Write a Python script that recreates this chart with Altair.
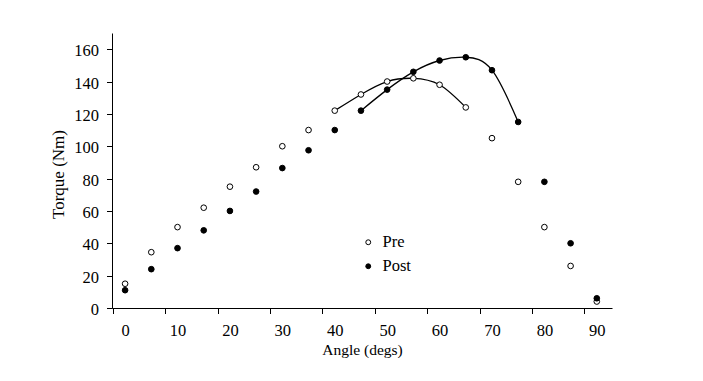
import altair as alt
import pandas as pd

# ---- data ----
angles = [0, 5, 10, 15, 20, 25, 30, 35, 40, 45, 50, 55, 60, 65, 70, 75, 80, 85, 90]
pre_torque = [15, 34.5, 50, 62, 75, 87, 100, 110, 122, 132, 140, 142, 138, 124, 105, 78, 50, 26, 4]
post_torque = [11, 24, 37, 48, 60, 72, 86.5, 97.5, 110, 122, 135, 146, 153, 155, 147, 115, 78, 40, 6]
groups = ["Pre", "Post"]
pre_curve_range = (40, 65)
post_curve_range = (45, 75)
x_ticks = [0, 10, 20, 30, 40, 50, 60, 70, 80, 90]
y_ticks = [0, 20, 40, 60, 80, 100, 120, 140, 160]

rows = []
for a, t in zip(angles, pre_torque):
    rows.append({"group": "Pre", "angle": a, "torque": t})
for a, t in zip(angles, post_torque):
    rows.append({"group": "Post", "angle": a, "torque": t})
df = pd.DataFrame(rows)

curve_df = pd.concat([
    df[(df.group == "Pre") & (df.angle >= pre_curve_range[0]) & (df.angle <= pre_curve_range[1])],
    df[(df.group == "Post") & (df.angle >= post_curve_range[0]) & (df.angle <= post_curve_range[1])],
])

FONT = "Liberation Serif, Times New Roman, serif"

x_enc = alt.X(
    "angle:Q",
    scale=alt.Scale(domain=[-2.5, 92.9], nice=False, zero=False),
    axis=alt.Axis(
        title="Angle (degs)",
        values=x_ticks,
        tickOffset=-12.4,
        labelOffset=12.4,
        grid=False,
        domainColor="black",
        tickColor="black",
        tickSize=5.5,
        labelPadding=9,
        labelFont=FONT,
        labelFontSize=16.5,
        labelColor="black",
        titleFont=FONT,
        titleFontSize=15.5,
        titleFontWeight="normal",
        titleColor="black",
        titleX=250,
        titleY=41,
        titleBaseline="middle",
        labelFlush=False,
    ),
)
y_enc = alt.Y(
    "torque:Q",
    scale=alt.Scale(domain=[0, 170], nice=False),
    axis=alt.Axis(
        title="Torque (Nm)",
        values=y_ticks,
        grid=False,
        domainColor="black",
        tickColor="black",
        tickSize=5.5,
        labelPadding=8,
        labelFont=FONT,
        labelFontSize=16.5,
        labelColor="black",
        labelOffset=1.5,
        titleFont=FONT,
        titleFontSize=17,
        titleFontWeight="normal",
        titleColor="black",
        titleX=-54,
        titleY=141,
        titleBaseline="middle",
        labelFlush=False,
    ),
)

lines = alt.Chart(curve_df).mark_line(
    interpolate="natural", color="black", strokeWidth=1.3
).encode(x=x_enc, y=y_enc, detail="group:N")

points = alt.Chart(df).mark_point(
    shape="circle", filled=True, size=32, stroke="black", strokeWidth=1, opacity=1
).encode(
    x=x_enc,
    y=y_enc,
    fill=alt.Fill(
        "group:N",
        scale=alt.Scale(domain=groups, range=["white", "black"]),
        sort=groups,
        legend=alt.Legend(
            title=None,
            orient="none",
            legendX=248,
            legendY=201,
            padding=0,
            symbolType="circle",
            symbolSize=24,
            symbolStrokeColor="black",
            symbolStrokeWidth=1,
            symbolOpacity=1,
            labelFont=FONT,
            labelFontSize=16.5,
            labelColor="black",
            labelOffset=6,
            rowPadding=7,
        ),
    ),
)

chart = (lines + points).properties(
    width=500,
    height=275,
    autosize=alt.AutoSizeParams(type="none"),
    padding={"left": 104, "top": 25, "right": 60, "bottom": 50},
).configure_view(stroke=None).configure_axis(domainWidth=1, tickWidth=1)

chart.save("out.html", embed_options={"renderer": "svg", "actions": False})
